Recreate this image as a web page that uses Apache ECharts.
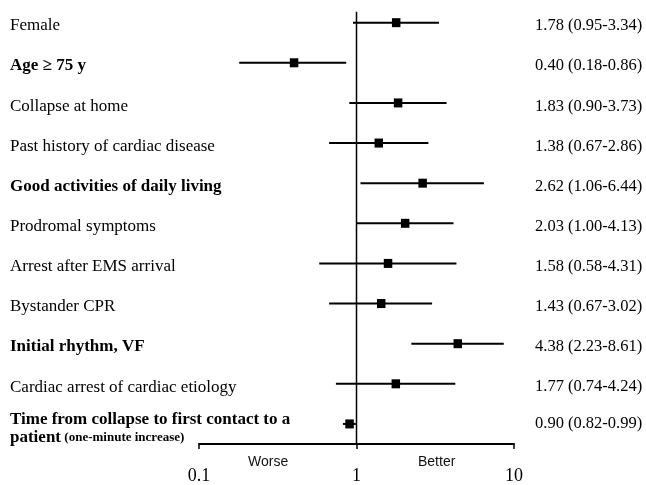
<!DOCTYPE html>
<html>
<head>
<meta charset="utf-8">
<script src="https://cdn.jsdelivr.net/npm/echarts@6/dist/echarts.min.js"></script>
<style>html,body{margin:0;padding:0;background:#fff}#c{width:646px;height:485px}</style>
</head>
<body>
<div id="c"></div>
<script>
const labels = ['Female','Age \u2265 75 y','Collapse at home','Past history of cardiac disease','Good activities of daily living','Prodromal symptoms','Arrest after EMS arrival','Bystander CPR','Initial rhythm, VF','Cardiac arrest of cardiac etiology','Time from collapse to first contact to a'];
const subLabel = ['', '', '', '', '', '', '', '', '', '', 'patient'];
const subNote = ['', '', '', '', '', '', '', '', '', '', '(one-minute increase)'];
const bold = [false,true,false,false,true,false,false,false,true,false,true];
const orValues = [1.78,0.40,1.83,1.38,2.62,2.03,1.58,1.43,4.38,1.77,0.90];
const ciLow = [0.95,0.18,0.90,0.67,1.06,1.00,0.58,0.67,2.23,0.74,0.82];
const ciHigh = [3.34,0.86,3.73,2.86,6.44,4.13,4.31,3.02,8.61,4.24,0.99];
const tickLabels = ['0.1','1','10'];
const sideLabels = ['Worse','Better'];

const SERIF = '"Liberation Serif","Times New Roman",serif';
const SANS = '"Liberation Sans",Arial,sans-serif';

const chart = echarts.init(document.getElementById('c'));
const data = orValues.map((v,i)=>[v, i, ciLow[i], ciHigh[i]]);

function fmt(i){
  return orValues[i].toFixed(2)+' ('+ciLow[i].toFixed(2)+'-'+ciHigh[i].toFixed(2)+')';
}

chart.setOption({
  animation:false,
  grid:{left:199, right:132, top:2.6, bottom:39.7},
  xAxis:{
    type:'log', logBase:10, min:0.1, max:10,
    axisLine:{show:true, lineStyle:{color:'#000', width:2}},
    axisTick:{show:true, length:5, lineStyle:{color:'#000', width:1.5}},
    splitLine:{show:false},
    axisLabel:{margin:23, fontFamily:SERIF, fontSize:18, color:'#000',
      formatter:function(v, idx){ return tickLabels[idx] !== undefined ? tickLabels[idx] : ''; }}
  },
  yAxis:{type:'category', inverse:true, show:false, data:labels},
  series:[
    {
      type:'custom',
      silent:true,
      data:[[1]],
      renderItem:function(params, api){
        const top = api.coord([1, 0]);
        const cs = params.coordSys;
        return {type:'line', shape:{x1:top[0], y1:top[1]-11, x2:top[0], y2:cs.y+cs.height},
          style:{stroke:'#000', lineWidth:1.5}};
      },
      z:1
    },
    {
      type:'custom',
      silent:true,
      data:data,
      encode:{x:0, y:1},
      renderItem:function(params, api){
        const i = api.value(1);
        const p = api.coord([api.value(0), i]);
        const l = api.coord([api.value(2), i]);
        const h = api.coord([api.value(3), i]);
        const two = !!subLabel[i];
        const ty = two ? p[1]-4 : p[1]+3.3;
        const vy = two ? p[1]-0.5 : p[1]+3.3;
        const children = [
          {type:'line', shape:{x1:l[0], y1:p[1], x2:h[0], y2:p[1]}, style:{stroke:'#000', lineWidth:2}},
          {type:'rect', shape:{x:p[0]-4, y:p[1]-4.5, width:8.5, height:9}, style:{fill:'#000'}},
          {type:'text', x:535, y:vy, style:{text:fmt(i), font:'16.5px '+SERIF, fill:'#000', textAlign:'left', textVerticalAlign:'middle'}}
        ];
        const w = bold[i] ? 'bold ' : '';
        children.push({type:'text', x:10, y:ty, style:{text:labels[i], font:w+'17px '+SERIF, fill:'#000', textAlign:'left', textVerticalAlign:'middle'}});
        if (two) {
          children.push({type:'text', x:10, y:ty+17.5, style:{
            text:'{a|'+subLabel[i]+'} {b|'+subNote[i]+'}',
            rich:{a:{fontFamily:SERIF, fontWeight:'bold', fontSize:17, color:'#000'},
                  b:{fontFamily:SERIF, fontWeight:'bold', fontSize:13, color:'#000'}},
            textAlign:'left', textVerticalAlign:'middle'}});
        }
        return {type:'group', children:children};
      },
      z:2
    }
  ],
  graphic:[
    {type:'text', left:248, top:455, style:{text:sideLabels[0], font:'14px '+SANS, fill:'#111'}},
    {type:'text', left:418, top:455, style:{text:sideLabels[1], font:'14px '+SANS, fill:'#111'}}
  ]
});
</script>
</body>
</html>
